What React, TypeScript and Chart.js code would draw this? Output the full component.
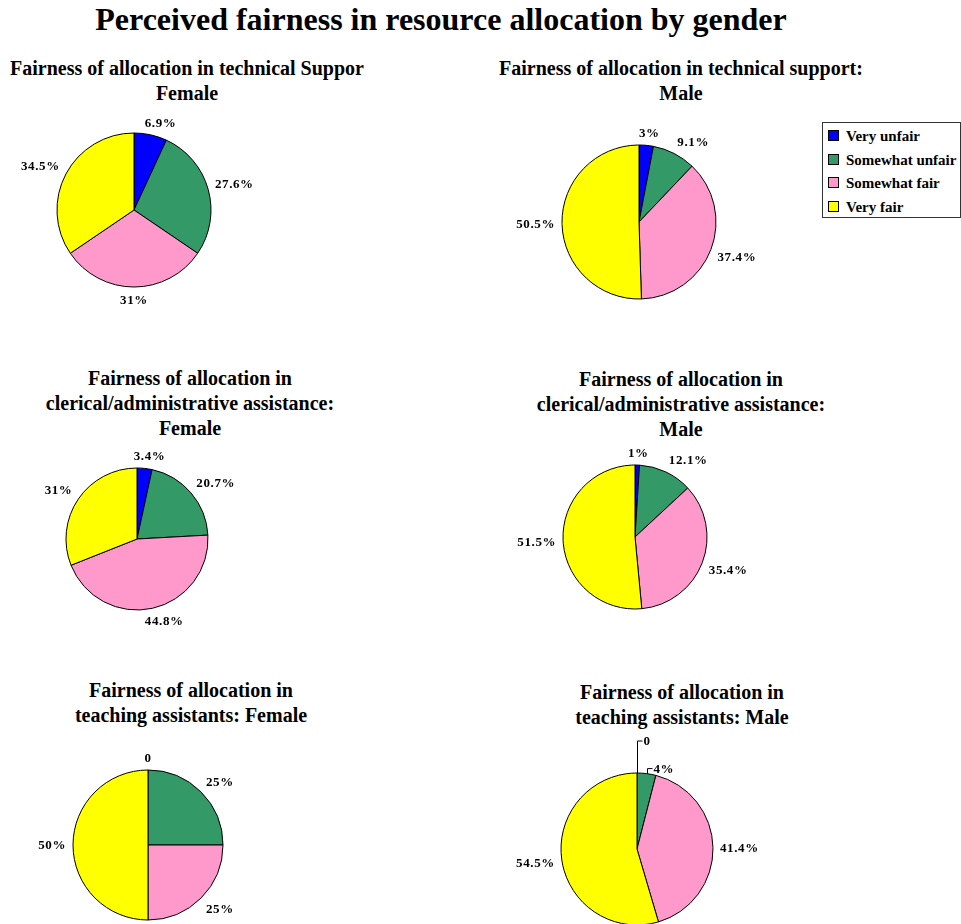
import React, { useEffect, useRef } from "react";
import { Chart, registerables } from "chart.js";

Chart.register(...registerables);

// ---- Data ----
const categories = ["Very unfair", "Somewhat unfair", "Somewhat fair", "Very fair"];
const sliceColors = ["#0000FF", "#339966", "#FF99CC", "#FFFF00"];

const techFemale = [6.9, 27.6, 31, 34.5];
const techMale = [3, 9.1, 37.4, 50.5];
const clericalFemale = [3.4, 20.7, 44.8, 31];
const clericalMale = [1, 12.1, 35.4, 51.5];
const taFemale = [0, 25, 25, 50];
const taMale = [0, 4, 41.4, 54.5];

const mainTitle = "Perceived fairness in resource allocation by gender";
const titleTechFemale = ["Fairness of allocation in technical Suppor", "Female"];
const titleTechMale = ["Fairness of allocation in technical support:", "Male"];
const titleClericalFemale = ["Fairness of allocation in", "clerical/administrative assistance:", "Female"];
const titleClericalMale = ["Fairness of allocation in", "clerical/administrative assistance:", "Male"];
const titleTaFemale = ["Fairness of allocation in", "teaching assistants: Female"];
const titleTaMale = ["Fairness of allocation in", "teaching assistants: Male"];

const FONT = "'Liberation Serif', 'Times New Roman', serif";

const fmt = (v: number) => (v === 0 ? "0" : `${v}%`);

const clamp = (v: number) => Math.max(-1, Math.min(1, v));

const pieLabelPlugin = {
  id: "pieLabels",
  afterDatasetsDraw(chart: any, _args: any, opts: any) {
    const ctx = chart.ctx as CanvasRenderingContext2D;
    const meta = chart.getDatasetMeta(0);
    const values = chart.data.datasets[0].data as number[];
    const leaders: number[] = opts.leaders || [];
    ctx.save();
    ctx.font = `bold 13px ${FONT}`;
    try {
      (ctx as any).letterSpacing = "0.6px";
    } catch (e) {}
    ctx.fillStyle = "#000";
    ctx.strokeStyle = "#000";
    ctx.lineWidth = 1;
    meta.data.forEach((arc: any, i: number) => {
      const { x, y, startAngle, endAngle, outerRadius } = arc.getProps(
        ["x", "y", "startAngle", "endAngle", "outerRadius"],
        true
      );
      const mid = (startAngle + endAngle) / 2;
      const ux = Math.cos(mid);
      const uy = Math.sin(mid);
      const text = fmt(values[i]);
      const w = ctx.measureText(text).width;
      const h = 11;
      const L = leaders[i] || 0;
      if (L > 0) {
        const sx = Math.round(x + ux * outerRadius) + 0.5;
        const sy = y + uy * outerRadius;
        ctx.beginPath();
        ctx.moveTo(sx, sy);
        ctx.lineTo(sx, sy - L);
        ctx.lineTo(sx + 5, sy - L);
        ctx.stroke();
        ctx.textAlign = "left";
        ctx.textBaseline = "middle";
        ctx.fillText(text, sx + 6, sy - L + 1);
      } else {
        const R = outerRadius + 7;
        const ax = x + ux * R;
        const ay = y + uy * R;
        const tx = ax + clamp(ux * 2.5) * (w / 2);
        const ty = ay + clamp(uy * 2.5) * (h / 2);
        ctx.textAlign = "center";
        ctx.textBaseline = "middle";
        ctx.fillText(text, tx, ty + 1);
      }
    });
    ctx.restore();
  },
};

type PieProps = { values: number[]; cx: number; cy: number; r: number; leaders?: number[] };

function PieChart({ values, cx, cy, r, leaders }: PieProps) {
  const ref = useRef<HTMLCanvasElement>(null);
  const pad = 70;
  const size = 2 * (r + pad);
  useEffect(() => {
    const chart = new Chart(ref.current as HTMLCanvasElement, {
      type: "pie",
      data: {
        labels: categories,
        datasets: [
          {
            data: values,
            backgroundColor: sliceColors,
            borderColor: "#000000",
            borderWidth: 1,
            hoverOffset: 0,
          },
        ],
      },
      options: {
        responsive: false,
        maintainAspectRatio: false,
        animation: false,
        radius: r,
        events: [],
        layout: { padding: pad },
        plugins: {
          legend: { display: false },
          tooltip: { enabled: false },
          title: { display: false },
          // @ts-ignore
          pieLabels: { leaders: leaders || [] },
        },
      } as any,
      plugins: [pieLabelPlugin],
    });
    return () => chart.destroy();
  }, []);
  return (
    <canvas
      ref={ref}
      width={size}
      height={size}
      style={{ position: "absolute", left: cx - r - pad, top: cy - r - pad, width: size, height: size }}
    />
  );
}

function PanelTitle({ lines, cx, top }: { lines: string[]; cx: number; top: number }) {
  return (
    <div
      style={{
        position: "absolute",
        left: cx - 250,
        top,
        width: 500,
        textAlign: "center",
        fontFamily: FONT,
        fontWeight: "bold",
        fontSize: 20,
        lineHeight: "25px",
        whiteSpace: "nowrap",
      }}
    >
      {lines.map((l, i) => (
        <div key={i}>{l}</div>
      ))}
    </div>
  );
}

function Legend() {
  return (
    <div
      style={{
        position: "absolute",
        left: 822,
        top: 122,
        width: 137,
        height: 94,
        border: "1px solid #333",
        background: "#fff",
        fontFamily: FONT,
        fontWeight: "bold",
        fontSize: 15,
      }}
    >
      {categories.map((c, i) => (
        <div
          key={c}
          style={{ position: "absolute", left: 5, top: 13 + i * 23.7 - 8, height: 16, lineHeight: "16px", whiteSpace: "nowrap" }}
        >
          <span
            style={{
              position: "absolute",
              left: 0,
              top: 2,
              width: 9,
              height: 9,
              background: sliceColors[i],
              border: "1px solid #000",
            }}
          />
          <span style={{ position: "absolute", left: 18, top: 0 }}>{c}</span>
        </div>
      ))}
    </div>
  );
}

export default function App() {
  return (
    <div
      style={{
        position: "absolute",
        left: 0,
        top: 0,
        width: 961,
        height: 924,
        overflow: "hidden",
        background: "#fff",
        fontFamily: FONT,
      }}
    >
      <div
        style={{
          position: "absolute",
          left: 0,
          top: 3,
          width: 882,
          textAlign: "center",
          fontSize: 32,
          fontWeight: "bold",
          lineHeight: "32px",
          whiteSpace: "nowrap",
        }}
      >
        {mainTitle}
      </div>

      <PanelTitle lines={titleTechFemale} cx={187} top={56} />
      <PanelTitle lines={titleTechMale} cx={681} top={56} />
      <PanelTitle lines={titleClericalFemale} cx={190} top={366} />
      <PanelTitle lines={titleClericalMale} cx={681} top={367} />
      <PanelTitle lines={titleTaFemale} cx={191} top={678} />
      <PanelTitle lines={titleTaMale} cx={682} top={680} />

      <PieChart values={techFemale} cx={134} cy={210} r={77} />
      <PieChart values={techMale} cx={639} cy={222} r={77} />
      <PieChart values={clericalFemale} cx={137} cy={539} r={71} />
      <PieChart values={clericalMale} cx={635} cy={537} r={72} />
      <PieChart values={taFemale} cx={148} cy={845} r={75} />
      <PieChart values={taMale} cx={637} cy={849} r={76} leaders={[32, 5, 0, 0]} />

      <Legend />
    </div>
  );
}
